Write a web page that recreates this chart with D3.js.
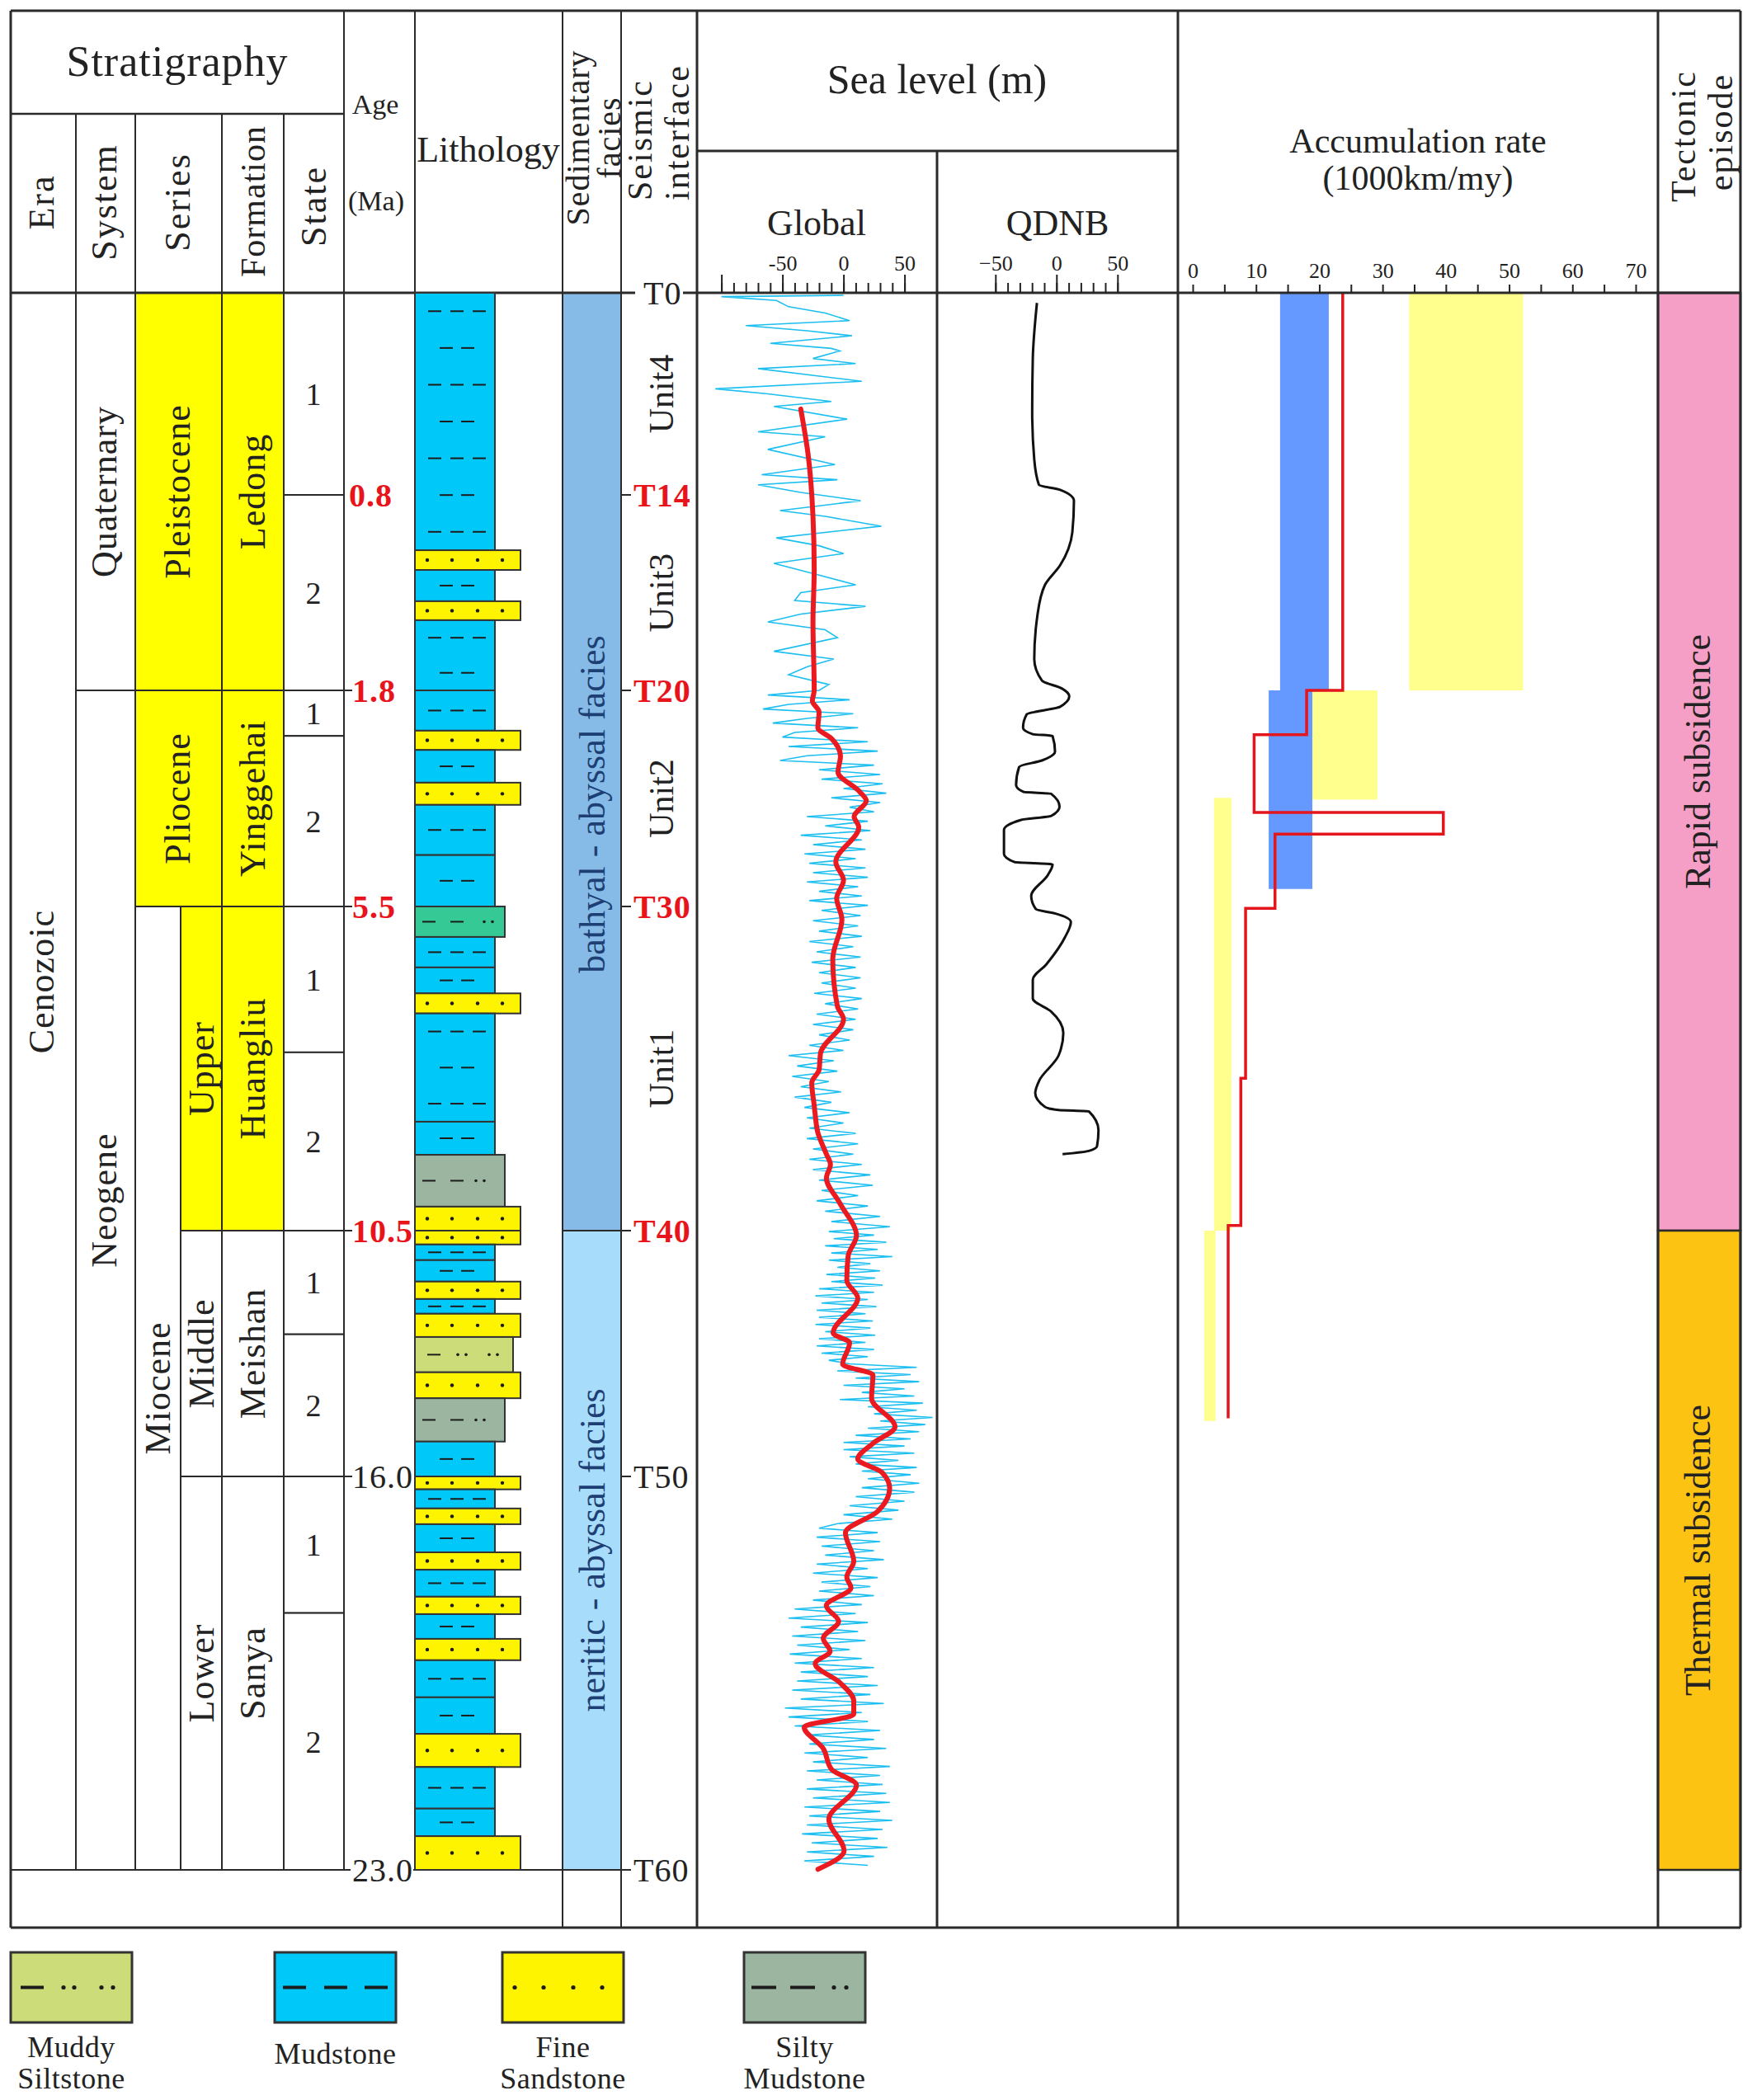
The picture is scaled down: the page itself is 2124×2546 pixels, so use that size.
<!DOCTYPE html>
<html>
<head>
<meta charset="utf-8">
<script src="https://cdn.jsdelivr.net/npm/d3@7"></script>
<style>
  body { margin: 0; background: #fff; }
  svg text { font-family: "Liberation Serif", "Times New Roman", serif; fill: #222; }
</style>
</head>
<body>
<div id="chart"></div>
<script>
// ---- data (ages in Ma) ----
const ageBreaks = [0, 0.8, 1.8, 5.5, 10.5, 16, 23];
const ageTicks = [0.8, 1.8, 5.5, 10.5, 16.0, 23.0];
const ageKey = [true, true, true, true, false, false];

const eraNames = ["Cenozoic"];
const eraBounds = [0, 23];
const systemNames = ["Quaternary", "Neogene"];
const systemBounds = [0, 1.8, 23];
const seriesNames = ["Pleistocene", "Pliocene", "Miocene"];
const seriesBounds = [0, 1.8, 5.5, 23];
const subSeriesNames = ["Upper", "Middle", "Lower"];
const subSeriesBounds = [5.5, 10.5, 16, 23];
const formationNames = ["Ledong", "Yinggehai", "Huangliu", "Meishan", "Sanya"];
const formationBounds = [0, 1.8, 5.5, 10.5, 16, 23];
const stateNames = ["1", "2", "1", "2", "1", "2", "1", "2", "1", "2"];
const stateBounds = [0, 0.8, 1.8, 2.58, 5.5, 7.75, 10.5, 12.82, 16, 18.43, 23];

// lithology: M mudstone, S fine sandstone, SM silty mudstone, SG silty mudstone (green), MS muddy siltstone
const litBounds = [0, 1.083, 1.184, 1.344, 1.441, 1.8, 2.49, 2.82, 3.38, 3.76, 4.62, 5.5, 5.97, 6.44, 6.84, 7.15,
  8.82, 9.33, 10.13, 10.5, 10.81, 11.16, 11.64, 12.03, 12.36, 12.88, 13.67, 14.25, 15.22, 16, 16.23, 16.57,
  16.85, 17.35, 17.66, 18.14, 18.45, 18.89, 19.27, 19.93, 20.58, 21.17, 21.91, 22.4, 23];
const litType = ["M", "S", "M", "S", "M", "M", "S", "M", "S", "M", "M", "SG", "M", "M", "S",
  "M", "M", "SM", "S", "S", "M", "M", "S", "M", "S", "MS", "S", "SM", "M", "S", "M",
  "S", "M", "S", "M", "S", "M", "S", "M", "M", "S", "M", "M", "S"];

const faciesNames = ["bathyal - abyssal facies", "neritic - abyssal facies"];
const faciesBounds = [0, 10.5, 23];

const seismicNames = ["T0", "T14", "T20", "T30", "T40", "T50", "T60"];
const seismicAge = [0, 0.8, 1.8, 5.5, 10.5, 16, 23];
const seismicKey = [false, true, true, true, true, false, false];
const unitNames = ["Unit4", "Unit3", "Unit2", "Unit1"];
const unitBounds = [0, 0.8, 1.8, 5.5, 10.5];

// global sea level (m): sparse part read point by point, dense part read every 0.08 Ma from 1.8 Ma
const cyanTopAge = [0.01, 0.015, 0.03, 0.055, 0.08, 0.11, 0.13, 0.15, 0.17, 0.20, 0.22, 0.23, 0.26, 0.28, 0.30,
  0.33, 0.35, 0.38, 0.40, 0.43, 0.45, 0.50, 0.55, 0.57, 0.62, 0.68, 0.72, 0.74, 0.76, 0.79, 0.83, 0.88,
  0.91, 0.96, 1.02, 1.06, 1.10, 1.15, 1.21, 1.26, 1.30, 1.34, 1.37, 1.41, 1.45, 1.49, 1.53, 1.60, 1.64,
  1.68, 1.72, 1.77];
const cyanTopSea = [0, -100, -55, -45, -15, 5, -80, -30, 7, -60, -10, -3, -25, 10, -70, -20, 15, -105, -62,
  -10, -57, 3, -70, -15, -62, -7, -67, -5, -70, -35, 14, -52, -15, 31, -55, -20, 0, -57, -20, 10, -35, -40,
  18, -35, -62, -15, -5, -57, -8, -30, -45, -12];
const cyanStart = 1.8, cyanStep = 0.08;
const cyanLowSea = [
  -20, -62, 5, -45, -66, 8, -30, -58, 12, -40, -50,
  20, -45, 28, -30, -52, 25, -20, 30,
  -18, 32, 0, 35, -10, 30, 5,
  25, -30, 20, -15, 22, -35, 15, -25, 18, -32, 10, -28,
  18, -25, 20, -30, 12, -20, 15, -28, 20, -18, 14,
  -25, 12, -20, 15, -28, 8, -22, 14, -26, 10,
  -20, 14, -18, 10, -24, 15, -15, 12, -22, 10,
  -25, 8, -20, 5, -28, 0,
  -45, -8, -38, -5, -42, -12, -35, -2, -40, -10,
  -32, 5, -30, 0, -28, 10, -30, 12, -25, 8, -28,
  15, -25, 22, -20, 24, -18, 12, -22, 20,
  -15, 30, -10, 38, -12, 25, -8, 35, -15, 28, -10, 40, -12, 22, -5, 30, -14, 26, -10, 32,
  -20, 25, -23, 20, -18, 27, -22, 18, -20, 24, -23, 22, -15, 26, -20, 18, -22, 25, -18, 20, -12,
  5, 60, -5, 55, 10, 62, 0, 50, 15, 58, -3, 65, 20, 60, 25, 73, 30, 67, 20, 62, 10, 55, 0,
  50, 0, 58, 5, 45, 10, 60, 15, 55, 20, 62, 15, 58, 10, 50, 5, 45, 0, 40, -5,
  -20, 28, -22, 30, -18, 25, -15, 33, -22, 20, -25, 28, -18, 22, -20, 25, -25,
  15, -40, 10, -45, 20, -35, 12, -42, 18, -38, 5, -44, 15, -40, 25, -35, 20,
  -38, 28, -42, 22, -35, 33, -48, 15, -45, 20, -40,
  30, -30, 25, -28, 35, -32, 20, -25, 38, -30, 30, -22, 32,
  -30, 35, -25, 38, -32, 30, -28, 40, -30, 32, -34, 28, -26, 36, -30, 25, -32, 20];

// long-term global curve (red)
const redAge = [0.46, 0.64, 0.91, 1.18, 1.45, 1.80, 1.98, 2.17, 2.44, 2.62, 2.93, 3.20, 3.52, 3.69, 3.96, 4.14,
  4.74, 5.05, 5.36, 5.70, 6.31, 7.04, 7.24, 7.76, 8.02, 8.22, 8.57, 8.71, 8.99, 9.32, 9.48, 9.69, 10.08,
  10.61, 11.07, 11.61, 12.01, 12.79, 13.01, 13.49, 13.73, 14.25, 14.89, 15.26, 15.61, 15.91, 16.21, 16.63,
  17.00, 17.51, 17.79, 17.98, 18.30, 18.58, 18.88, 19.11, 19.33, 19.67, 19.99, 20.23, 20.46, 20.84, 21.21,
  21.49, 22.10, 22.66, 22.99];
const redSea = [-35, -29, -25, -24, -25, -24, -25.5, -20, -21, -10, -2.5, -4.5, 12.5, 18.7, 8.7, 12.5,
  -6.3, 0, -5.6, -1.3, -8.8, -5, 0, -18.8, -20, -26, -24, -23.2, -21, -14, -10.7, -14, -2.9,
  10.6, 3.8, 2.7, 11.7, -8.5, 5, -0.7, 24.1, 23, 42.2, 24.1, 11.7, 31.5, 37.8, 27.6,
  1.6, 8.4, 2.7, 6.1, -14.1, -4, -16.6, -11, -23.2, -2.9, 8.4, 8.4, -32.2, -16.6, -9.8,
  10.6, -12, 0.5, -20.9];

// QDNB sea level (m)
const qdnbAge = [0.04, 0.26, 0.47, 0.66, 0.76, 0.78, 0.83, 0.99, 1.16, 1.26, 1.42, 1.64, 1.75, 1.79, 1.90, 2.08,
  2.21, 2.44, 2.55, 2.58, 2.85, 3.00, 3.11, 3.42, 3.54, 3.57, 3.79, 3.95, 4.02, 4.19, 4.60, 4.74, 4.78,
  4.96, 5.32, 5.54, 5.61, 5.74, 5.98, 6.39, 6.63, 6.92, 7.12, 7.45, 7.80, 8.18, 8.38, 8.59, 8.64, 8.66,
  8.95, 9.20, 9.27, 9.32];
const qdnbSea = [-16, -19.4, -19.9, -18.2, -14.4, 3, 14.3, 13, 3, -9.4, -15.7, -18.2, -11.9, 4.3, 10.5, 3,
  -24.4, -27.4, -19.4, -3.2, -1.2, -11.9, -30.6, -33.1, -26.9, -4.4, 2.5, -4.4, -29.4, -43, -43, -34.4, -3.2,
  -7, -20.7, -16.9, -0.7, 11.8, 6.8, -8.2, -19.4, -19.4, -4.4, 5.6, 1.7, -14, -17.4, -9.5, 1.7, 26.5,
  34.4, 33.2, 26.5, 5];

// accumulation rate (1000 km/my)
const blueTop = [0, 1.8];
const blueBase = [1.8, 5.2];
const blueMin = [13.8, 12.0];
const blueMax = [21.5, 18.9];
const yellowTop = [0, 1.8, 3.64, 10.5];
const yellowBase = [1.8, 3.67, 10.5, 14.76];
const yellowMin = [34.2, 18.9, 3.35, 1.8];
const yellowMax = [52.2, 29.2, 6.1, 3.6];
const rateBreaks = [0, 1.8, 2.56, 3.89, 4.26, 5.53, 8.15, 10.42, 14.7];
const rateValue = [23.7, 18.0, 9.7, 39.6, 13.0, 8.35, 7.6, 5.6];

const tectonicNames = ["Rapid  subsidence", "Thermal subsidence"];
const tectonicBounds = [0, 10.5, 23];

const legendType = ["MS", "M", "S", "SM"];
const legendLabels = [["Muddy", "Siltstone"], ["Mudstone"], ["Fine", "Sandstone"], ["Silty", "Mudstone"]];

// ---- layout ----
const X = { left: 13, era: 92, sys: 164, mio: 219, ser: 269, form: 344, state: 417, age: 503,
  lith: 682, sed: 753, seis: 845, glob: 1136, qdnb: 1428, acc: 2010, right: 2110 };
const Y = { top: 13, strat: 138, sea: 183, head: 355, bottom: 2337 };

const svg = d3.select("#chart").append("svg")
  .attr("width", 2124).attr("height", 2546)
  .style("background", "#fff");

// depth scale: piecewise linear in age, as in the original figure
const y = d3.scaleLinear().domain(ageBreaks).range([355, 600, 837, 1099, 1492, 1790, 2267]);

const gx = d3.scaleLinear().domain([-100, 50]).range([874.6, 1096.6]);
const qx = d3.scaleLinear().domain([-50, 50]).range([1206.8, 1354.8]);
const ax = d3.scaleLinear().domain([0, 70]).range([1446, 1983]);

const gFill = svg.append("g");
const gCurve = svg.append("g");
const gLine = svg.append("g").attr("stroke", "#2a2a2a").attr("fill", "none");
const gText = svg.append("g");

const YELLOW = "#ffff00";
const yellowUnits = ["Pleistocene", "Pliocene", "Upper", "Ledong", "Yinggehai", "Huangliu"];

function vtext(g, x, yy, str, size, opt = {}) {
  return g.append("text")
    .attr("transform", `translate(${x},${yy}) rotate(-90)`)
    .attr("text-anchor", opt.anchor || "middle")
    .attr("dy", "0.35em")
    .style("font-size", size + "px")
    .style("letter-spacing", (opt.ls || 0) + "px")
    .style("font-weight", opt.bold ? "bold" : "normal")
    .style("fill", opt.fill || "#222")
    .text(str);
}
function htext(g, x, yy, str, size, opt = {}) {
  return g.append("text")
    .attr("x", x).attr("y", yy)
    .attr("text-anchor", opt.anchor || "middle")
    .attr("dy", opt.dy || "0.35em")
    .style("font-size", size + "px")
    .style("letter-spacing", (opt.ls || 0) + "px")
    .style("font-weight", opt.bold ? "bold" : "normal")
    .style("fill", opt.fill || "#222")
    .text(str);
}
function hline(x1, x2, yy, w) {
  gLine.append("line").attr("x1", x1).attr("x2", x2).attr("y1", yy).attr("y2", yy).attr("stroke-width", w || 2);
}
function vline(xx, y1, y2, w) {
  gLine.append("line").attr("x1", xx).attr("x2", xx).attr("y1", y1).attr("y2", y2).attr("stroke-width", w || 2);
}

// ---- stratigraphy cells ----
function cells(names, bounds, x0, x1f, labelX, size, rotate, labelAge) {
  names.forEach((n, i) => {
    const x1 = typeof x1f === "function" ? x1f(n) : x1f;
    const t = y(bounds[i]), b = y(bounds[i + 1]);
    gFill.append("rect").attr("x", x0).attr("y", t).attr("width", x1 - x0).attr("height", b - t)
      .attr("fill", yellowUnits.includes(n) ? YELLOW : "#fff")
      .attr("stroke", "#2a2a2a").attr("stroke-width", 2);
    const cy = labelAge && labelAge[n] !== undefined ? y(labelAge[n]) : (t + b) / 2;
    const cx = typeof labelX === "function" ? labelX(n) : labelX;
    if (rotate) vtext(gText, cx, cy, n, size, { ls: 1 });
    else htext(gText, cx, cy, n, size);
  });
}
cells(eraNames, eraBounds, X.left, X.era, 50, 44, true, { Cenozoic: 6.66 });
cells(systemNames, systemBounds, X.era, X.sys, 126, 44, true, { Neogene: 10.03 });
cells(seriesNames, seriesBounds, X.sys, n => (n === "Miocene" ? X.mio : X.ser),
  n => (n === "Miocene" ? 191 : 215), 44, true);
cells(subSeriesNames, subSeriesBounds, X.mio, X.ser, 244, 44, true);
cells(formationNames, formationBounds, X.ser, X.form, 306, 44, true);
cells(stateNames, stateBounds, X.form, X.state, 380, 38, false);

// ---- lithology ----
const litColor = { M: "#00c8f8", S: "#fff400", SM: "#9bb5a1", SG: "#35c995", MS: "#ccdc78" };
const litWidth = { M: 97, S: 128, SM: 109, SG: 109, MS: 119 };
const gLith = svg.append("g");
const ink = "#1c1c1c";
function dash(g, x, yy, len, w) {
  g.append("line").attr("x1", x).attr("x2", x + len).attr("y1", yy).attr("y2", yy)
    .attr("stroke", ink).attr("stroke-width", w);
}
function dot(g, x, yy, r) {
  g.append("circle").attr("cx", x).attr("cy", yy).attr("r", r).attr("fill", ink);
}
let rowCount = 0;
litType.forEach((type, i) => {
  const t = y(litBounds[i]), b = y(litBounds[i + 1]), h = b - t;
  const x0 = X.age;
  gLith.append("rect").attr("x", x0).attr("y", t).attr("width", litWidth[type]).attr("height", h)
    .attr("fill", litColor[type]).attr("stroke", "#333").attr("stroke-width", 2);
  const cy = (t + b) / 2;
  if (type === "M") {
    const n = Math.max(1, Math.floor(h / 42));
    for (let k = 0; k < n; k++) {
      const ry = t + (k + 0.5) * h / n;
      if (rowCount % 2 === 0) [16, 43, 70].forEach(dx => dash(gLith, x0 + dx, ry, 16, 2));
      else [30, 56].forEach(dx => dash(gLith, x0 + dx, ry, 16, 2));
      rowCount++;
    }
  } else if (type === "S") {
    [15, 45, 76, 106].forEach(dx => dot(gLith, x0 + dx, cy, 2.2));
  } else if (type === "SM" || type === "SG") {
    [9, 43].forEach(dx => dash(gLith, x0 + dx, cy, 16, 2));
    const off = type === "SG" ? 10 : 0;
    [74 + off, 84 + off].forEach(dx => dot(gLith, x0 + dx, cy, 1.8));
  } else if (type === "MS") {
    dash(gLith, x0 + 15, cy, 16, 2);
    [52, 62, 90, 100].forEach(dx => dot(gLith, x0 + dx, cy, 1.8));
  }
});

// ---- sedimentary facies ----
const faciesColor = ["#86bbe8", "#a8dcfb"];
const faciesLabelAge = [3.75, null];
faciesNames.forEach((n, i) => {
  const t = y(faciesBounds[i]), b = y(faciesBounds[i + 1]);
  gFill.append("rect").attr("x", X.lith).attr("y", t).attr("width", X.sed - X.lith).attr("height", b - t)
    .attr("fill", faciesColor[i]).attr("stroke", "#2a2a2a").attr("stroke-width", 2);
  const cy = faciesLabelAge[i] !== null ? y(faciesLabelAge[i]) : (t + b) / 2;
  vtext(gText, 718, cy, n, 44, { fill: "#1d3f73" });
});

// ---- tectonic episode ----
const tectonicColor = ["#f59fc6", "#fdc312"];
tectonicNames.forEach((n, i) => {
  const t = y(tectonicBounds[i]), b = y(tectonicBounds[i + 1]);
  gFill.append("rect").attr("x", X.acc).attr("y", t).attr("width", X.right - X.acc).attr("height", b - t)
    .attr("fill", tectonicColor[i]).attr("stroke", "#2a2a2a").attr("stroke-width", 2.5);
  vtext(gText, 2058, (t + b) / 2, n, 44);
});

// ---- accumulation rate ----
blueTop.forEach((t, i) => {
  gFill.append("rect").attr("x", ax(blueMin[i])).attr("y", y(t))
    .attr("width", ax(blueMax[i]) - ax(blueMin[i])).attr("height", y(blueBase[i]) - y(t))
    .attr("fill", "#6699ff");
});
yellowTop.forEach((t, i) => {
  gFill.append("rect").attr("x", ax(yellowMin[i])).attr("y", y(t))
    .attr("width", ax(yellowMax[i]) - ax(yellowMin[i])).attr("height", y(yellowBase[i]) - y(t))
    .attr("fill", "#ffff8e");
});
const stepPts = [];
rateValue.forEach((v, i) => {
  stepPts.push([v, rateBreaks[i]]);
  stepPts.push([v, rateBreaks[i + 1]]);
});
gCurve.append("path")
  .attr("d", d3.line().x(d => ax(d[0])).y(d => y(d[1]))(stepPts))
  .attr("fill", "none").attr("stroke", "#e3161e").attr("stroke-width", 3.5);

// ---- sea level curves ----
const cyanPts = cyanTopAge.map((a, i) => [cyanTopSea[i], a])
  .concat(cyanLowSea.map((v, i) => [v, cyanStart + i * cyanStep]));
gCurve.append("path")
  .attr("d", d3.line().x(d => gx(d[0])).y(d => y(d[1]))(cyanPts))
  .attr("fill", "none").attr("stroke", "#1cbff0").attr("stroke-width", 1.6);

gCurve.append("path")
  .attr("d", d3.line().x(d => gx(d[0])).y(d => y(d[1])).curve(d3.curveMonotoneY)(redAge.map((a, i) => [redSea[i], a])))
  .attr("fill", "none").attr("stroke", "#ea1a20").attr("stroke-width", 6).attr("stroke-linecap", "round");

gCurve.append("path")
  .attr("d", d3.line().x(d => qx(d[0])).y(d => y(d[1])).curve(d3.curveMonotoneY)(qdnbAge.map((a, i) => [qdnbSea[i], a])))
  .attr("fill", "none").attr("stroke", "#111").attr("stroke-width", 3);

// ---- axes ----
function styleAxis(g) {
  g.select(".domain").remove();
  g.selectAll(".tick line").attr("stroke", "#222").attr("stroke-width", 2);
  g.selectAll(".tick text").style("font-size", "26px")
    .style("font-family", '"Liberation Serif", "Times New Roman", serif').attr("fill", "#222");
}
svg.append("g").attr("transform", `translate(0,${Y.head})`)
  .call(d3.axisTop(gx).tickValues(d3.range(-100, 51, 10)).tickSize(12).tickFormat(""))
  .call(styleAxis);
svg.append("g").attr("transform", `translate(0,${Y.head})`)
  .call(d3.axisTop(gx).tickValues([-100, -50, 0, 50]).tickSize(22).tickPadding(5)
    .tickFormat(d => (d === -100 ? "" : d)))
  .call(styleAxis);
svg.append("g").attr("transform", `translate(0,${Y.head})`)
  .call(d3.axisTop(qx).tickValues(d3.range(-50, 51, 10)).tickSize(12).tickFormat(""))
  .call(styleAxis);
svg.append("g").attr("transform", `translate(0,${Y.head})`)
  .call(d3.axisTop(qx).tickValues([-50, 0, 50]).tickSize(22).tickPadding(5))
  .call(styleAxis);
svg.append("g").attr("transform", `translate(0,${Y.head})`)
  .call(d3.axisTop(ax).tickValues(d3.range(0, 71, 5)).tickSize(10).tickPadding(8)
    .tickFormat(d => (d % 10 === 0 ? d : "")))
  .call(styleAxis);

// ---- frame ----
hline(X.left, X.right, Y.top, 3);
hline(X.left, X.right, Y.bottom, 3);
hline(X.left, X.right, Y.head, 3);
hline(X.left, X.state, Y.strat, 2.5);
hline(X.seis, X.qdnb, Y.sea, 3);
hline(X.left, X.sed, y(23), 2);
vline(X.left, Y.top, Y.bottom, 3);
[X.era, X.sys, X.ser, X.form].forEach(xx => vline(xx, Y.strat, y(23), 2));
vline(X.state, Y.top, y(23), 2);
vline(X.age, Y.top, y(23), 2);
vline(X.lith, Y.top, Y.bottom, 2);
vline(X.sed, Y.top, Y.bottom, 2);
vline(X.seis, Y.top, Y.bottom, 3);
vline(X.glob, Y.sea, Y.bottom, 3);
vline(X.qdnb, Y.top, Y.bottom, 3);
vline(X.acc, Y.top, Y.bottom, 3);
vline(X.right, Y.top, Y.bottom, 3);

// ---- age labels ----
ageTicks.forEach((a, i) => {
  const yy = y(a);
  if (a !== 0.8) hline(X.state, X.state + 10, yy, 2);
  if (a === 23) gText.append("rect").attr("x", 425).attr("y", yy - 16).attr("width", 76).attr("height", 32).attr("fill", "#fff");
  htext(gText, a === 0.8 ? 423 : 427, yy, a.toFixed(1), 40,
    { anchor: "start", bold: ageKey[i], fill: ageKey[i] ? "#e8141c" : "#222", ls: 1 });
});

// ---- seismic interfaces ----
seismicNames.forEach((n, i) => {
  const yy = y(seismicAge[i]);
  if (i === 0) {
    gText.append("rect").attr("x", 770).attr("y", yy - 17).attr("width", 58).attr("height", 34).attr("fill", "#fff");
    htext(gText, 780, yy, n, 40, { anchor: "start", ls: 1 });
    return;
  }
  hline(X.sed, X.sed + 12, yy, 2);
  htext(gText, 768, yy, n, 40,
    { anchor: "start", bold: seismicKey[i], fill: seismicKey[i] ? "#e8141c" : "#222", ls: 1 });
});
unitNames.forEach((n, i) => {
  vtext(gText, 801, (y(unitBounds[i]) + y(unitBounds[i + 1])) / 2, n, 42);
});

// ---- header text ----
htext(gText, 215, 74, "Stratigraphy", 52, { ls: 1 });
vtext(gText, 50, 245, "Era", 44, { ls: 2 });
vtext(gText, 126, 245, "System", 44, { ls: 2 });
vtext(gText, 215, 245, "Series", 44, { ls: 2 });
vtext(gText, 306, 244, "Formation", 42, { ls: 1 });
vtext(gText, 380, 250, "State", 44, { ls: 2 });
htext(gText, 455, 126, "Age", 34);
htext(gText, 456, 243, "(Ma)", 34);
htext(gText, 592, 181, "Lithology", 44);
vtext(gText, 700, 167, "Sedimentary", 40, { ls: 1 });
vtext(gText, 738, 167, "facies", 40, { ls: 1 });
vtext(gText, 775, 243, "Seismic", 42, { anchor: "start", ls: 2 });
vtext(gText, 820, 243, "interface", 42, { anchor: "start", ls: 2 });
htext(gText, 1136, 95, "Sea level (m)", 50);
htext(gText, 990, 270, "Global", 44);
htext(gText, 1282, 270, "QDNB", 44);
htext(gText, 1719, 170, "Accumulation rate", 42);
htext(gText, 1719, 215, "(1000km/my)", 42);
vtext(gText, 2040, 165, "Tectonic", 42, { ls: 2 });
vtext(gText, 2085, 160, "episode", 42, { ls: 2 });

// ---- legend ----
const legendX = [13, 333, 609, 902];
const gLeg = svg.append("g");
legendType.forEach((type, i) => {
  const x0 = legendX[i], top = 2367, w = 147, h = 85, cy = top + h / 2;
  gLeg.append("rect").attr("x", x0).attr("y", top).attr("width", w).attr("height", h)
    .attr("fill", litColor[type]).attr("stroke", "#333").attr("stroke-width", 3);
  if (type === "MS") {
    dash(gLeg, x0 + 12, cy, 28, 4);
    [64, 77, 110, 124].forEach(dx => dot(gLeg, x0 + dx, cy, 2.6));
  } else if (type === "M") {
    [10, 60, 109].forEach(dx => dash(gLeg, x0 + dx, cy, 28, 4));
  } else if (type === "S") {
    [15, 50, 86, 121].forEach(dx => dot(gLeg, x0 + dx, cy, 2.6));
  } else {
    [9, 56].forEach(dx => dash(gLeg, x0 + dx, cy, 30, 4));
    [109, 124].forEach(dx => dot(gLeg, x0 + dx, cy, 2.6));
  }
  const lines = legendLabels[i];
  const cx = x0 + w / 2;
  if (lines.length === 1) {
    htext(gLeg, cx, 2502, lines[0], 36, { dy: "0", ls: 0.5 });
  } else {
    htext(gLeg, cx, 2494, lines[0], 36, { dy: "0", ls: 0.5 });
    htext(gLeg, cx, 2532, lines[1], 36, { dy: "0", ls: 0.5 });
  }
});
</script>
</body>
</html>
